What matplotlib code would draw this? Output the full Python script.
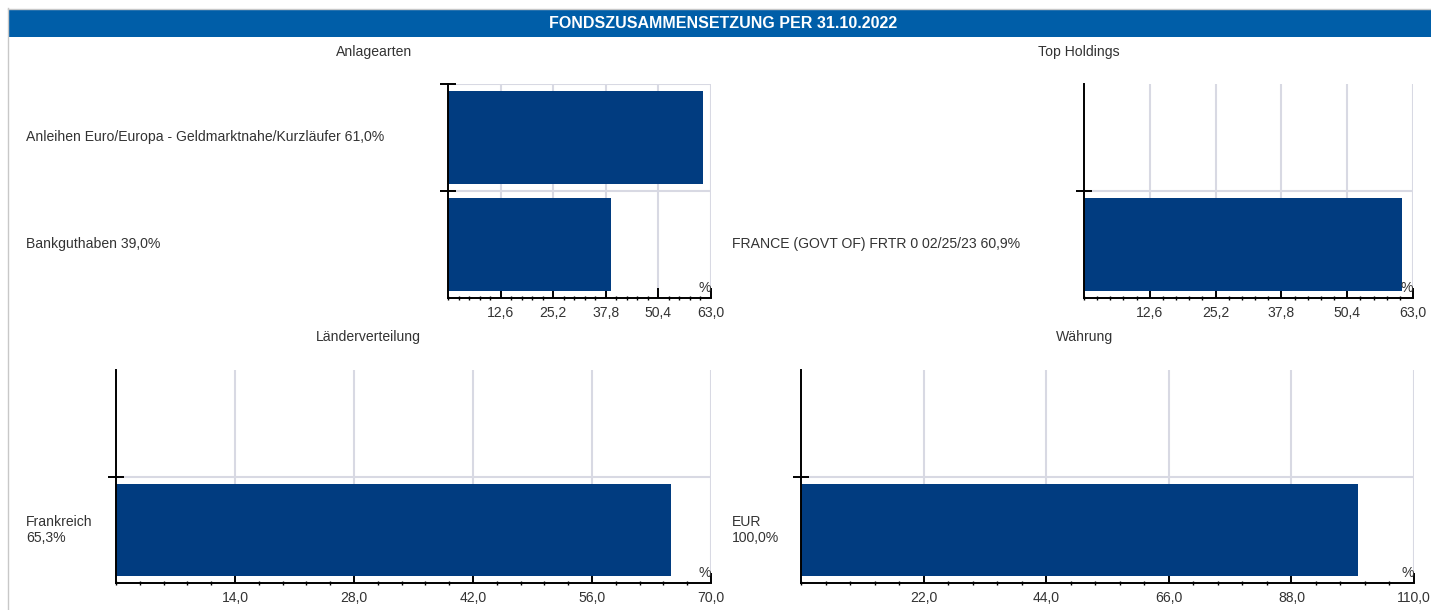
import matplotlib.pyplot as plt
from matplotlib.patches import Rectangle
from matplotlib.lines import Line2D
from matplotlib.ticker import MultipleLocator, FixedLocator, FuncFormatter
import matplotlib.transforms as mtransforms

plt.rcParams["font.family"] = ["Liberation Sans", "DejaVu Sans"]

TITLE = "FONDSZUSAMMENSETZUNG PER 31.10.2022"

# Anlagearten
asset_labels = ["Anleihen Euro/Europa - Geldmarktnahe/Kurzläufer 61,0%", "Bankguthaben 39,0%"]
asset_values = [61.0, 39.0]
asset_ticks = [12.6, 25.2, 37.8, 50.4, 63.0]

# Top Holdings
holding_labels = ["FRANCE (GOVT OF) FRTR 0 02/25/23 60,9%"]
holding_values = [60.9]
holding_ticks = [12.6, 25.2, 37.8, 50.4, 63.0]

# Länderverteilung
country_labels = ["Frankreich\n65,3%"]
country_values = [65.3]
country_ticks = [14.0, 28.0, 42.0, 56.0, 70.0]

# Währung
currency_labels = ["EUR\n100,0%"]
currency_values = [100.0]
currency_ticks = [22.0, 44.0, 66.0, 88.0, 110.0]

W, H = 1431, 610
BAR_COLOR = "#013c80"
GRID_COLOR = "#d8d9e3"
TEXT_COLOR = "#333333"
FS = 10.1

fig = plt.figure(figsize=(W / 100, H / 100), dpi=100)


def px_axes(x0, y0, x1, y1):
    return fig.add_axes([x0 / W, 1 - y1 / H, (x1 - x0) / W, (y1 - y0) / H])


def draw_panel(box, labels, values, ticks, label_x, title, title_xy):
    ax = px_axes(*box)
    n = len(labels)
    # two slots per chart, bars fill from the bottom slot upwards
    ypos = [n - 1 - i + 0.5 for i in range(n)]
    ax.barh(ypos, values, height=0.86, color=BAR_COLOR, zorder=2)
    ax.set_xlim(0, ticks[-1])
    ax.set_ylim(0, 2)

    step = ticks[1] - ticks[0]
    ax.xaxis.set_major_locator(FixedLocator(ticks))
    ax.xaxis.set_minor_locator(MultipleLocator(step / 5))
    ax.xaxis.set_major_formatter(FuncFormatter(lambda v, p: f"{v:.1f}".replace(".", ",")))
    ax.yaxis.set_major_locator(FixedLocator([n - i for i in range(n)]))
    ax.set_yticklabels([])

    ax.grid(True, axis="both", color=GRID_COLOR, linewidth=1.5, zorder=0)
    ax.set_axisbelow(True)
    for s in ("top", "right"):
        ax.spines[s].set_visible(False)
    for s in ("left", "bottom"):
        ax.spines[s].set_linewidth(1.4)
        ax.spines[s].set_color("black")
    ax.tick_params(axis="x", which="major", direction="in", length=7, width=1.4,
                   labelsize=FS, labelcolor=TEXT_COLOR, pad=6)
    ax.tick_params(axis="x", which="minor", direction="inout", length=3, width=1.0)
    ax.tick_params(axis="y", which="major", direction="inout", length=11, width=1.4)

    ax.text(1.0, 0.012, "%", transform=ax.transAxes, ha="right", va="bottom",
            fontsize=FS, color=TEXT_COLOR)

    trans = mtransforms.blended_transform_factory(fig.transFigure, ax.transData)
    for lab, y in zip(labels, ypos):
        ax.text(label_x / W, y, lab, transform=trans, ha="left", va="center",
                fontsize=FS, color=TEXT_COLOR, linespacing=1.2, clip_on=False)

    fig.text(title_xy[0] / W, 1 - title_xy[1] / H, title, ha="center", va="center",
             fontsize=FS, color=TEXT_COLOR)
    return ax


# frame and title bar
fig.add_artist(Line2D([7.5 / W, 7.5 / W], [0, 1 - 8 / H], transform=fig.transFigure,
                      color="#c8c8c8", linewidth=1))
fig.add_artist(Line2D([7.5 / W, 1], [1 - 8.5 / H, 1 - 8.5 / H], transform=fig.transFigure,
                      color="#c8c8c8", linewidth=1))
fig.add_artist(Rectangle((8 / W, 1 - 37 / H), 1 - 8 / W, 28 / H, transform=fig.transFigure,
                         facecolor="#005ea8", edgecolor="none"))
fig.text(723 / W, 1 - 23 / H, TITLE, ha="center", va="center", fontsize=11.5,
         fontweight="bold", color="white")

draw_panel((448, 84, 711, 298), asset_labels, asset_values, asset_ticks, 26,
           "Anlagearten", (374, 52))
draw_panel((1084, 84, 1413, 298), holding_labels, holding_values, holding_ticks, 732,
           "Top Holdings", (1079, 52))
draw_panel((116, 370, 711, 583), country_labels, country_values, country_ticks, 26,
           "Länderverteilung", (368, 337))
draw_panel((801, 370, 1414, 583), currency_labels, currency_values, currency_ticks, 732,
           "Währung", (1085, 337))

fig.savefig("out.png", dpi=100)
